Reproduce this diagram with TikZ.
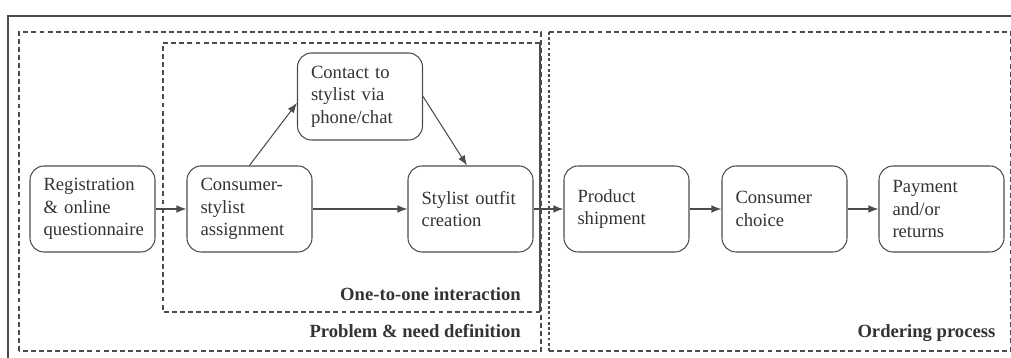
\documentclass[tikz,border=0pt]{standalone}
\usepackage{fontspec}
\setmainfont{Liberation Serif}
\usetikzlibrary{arrows.meta}
\hyphenpenalty=10000
\definecolor{linea}{gray}{0.3}
\definecolor{testo}{gray}{0.2}
\tikzset{
  fase/.style={draw=linea, line width=0.6pt, rounded corners=8pt, text=testo,
    text width=1.96cm, inner xsep=0.27cm, minimum height=1.72cm, align=left,
    font=\fontsize{10.6}{12.8}\selectfont},
  etichetta/.style={text=testo, font=\fontsize{10.6}{12.8}\selectfont\bfseries},
  freccia/.style={draw=linea, line width=0.6pt, -{Latex[length=2mm,width=1.5mm]}},
  riquadro/.style={draw=linea, line width=0.6pt, dash pattern=on 2.8pt off 1.8pt}
}
\begin{document}
\begin{tikzpicture}
    \useasboundingbox (0,0) rectangle (20.22,7.16);
    % Cornice e riquadri delle fasi del servizio
    \draw[linea, line width=0.8pt] (0.16,0) -- (0.16,6.84) -- (20.22,6.84);
    \draw[riquadro] (0.38,0.14) rectangle (10.82,6.52);
    \draw[riquadro] (10.80,6.30) -- (3.26,6.30) -- (3.26,0.92) -- (10.80,0.92);
    \draw[linea, line width=0.7pt] (10.80,0.92) -- (10.80,6.30);
    \draw[riquadro] (10.98,6.52) -- (20.21,6.52) -- (20.21,0.14) -- (10.98,0.14);
    \draw[linea, line width=0.6pt, dash pattern=on 1.6pt off 1.4pt] (10.98,0.14) -- (10.98,6.52);

    \node[fase] (reg) at (1.85,2.98) {Registration\\\& online\\questionnaire};
    \node[fase] (cons) at (4.99,2.98) {Consumer-\\stylist\\assignment};
    \node[fase, minimum height=1.74cm] (cont) at (7.20,5.23) {Contact to\\stylist via\\phone/chat};
    \node[fase] (outfit) at (9.41,2.98) {Stylist outfit\\creation};
    \node[fase] (sped) at (12.53,2.98) {Product\\shipment};
    \node[fase] (scelta) at (15.69,2.98) {Consumer\\choice};
    \node[fase] (pag) at (18.83,2.98) {Payment\\and/or\\returns};

    \draw[freccia] (reg) -- (cons);
    \draw[freccia] (cons.north) -- ([yshift=-1.3mm]cont.west);
    \draw[freccia] (cont.east) -- ([xshift=-0.7mm]outfit.north);
    \draw[freccia] (cons) -- (outfit);
    \draw[freccia] (outfit) -- (sped);
    \draw[freccia] (sped) -- (scelta);
    \draw[freccia] (scelta) -- (pag);

    \node[etichetta, anchor=base east] (uno) at (10.54,1.14) {One-to-one interaction};
    \node[etichetta, anchor=base east] (prob) at (10.54,0.40) {Problem \& need definition};
    \node[etichetta, anchor=base east] (ord) at (20.03,0.40) {Ordering process};
  \end{tikzpicture}
\end{document}
